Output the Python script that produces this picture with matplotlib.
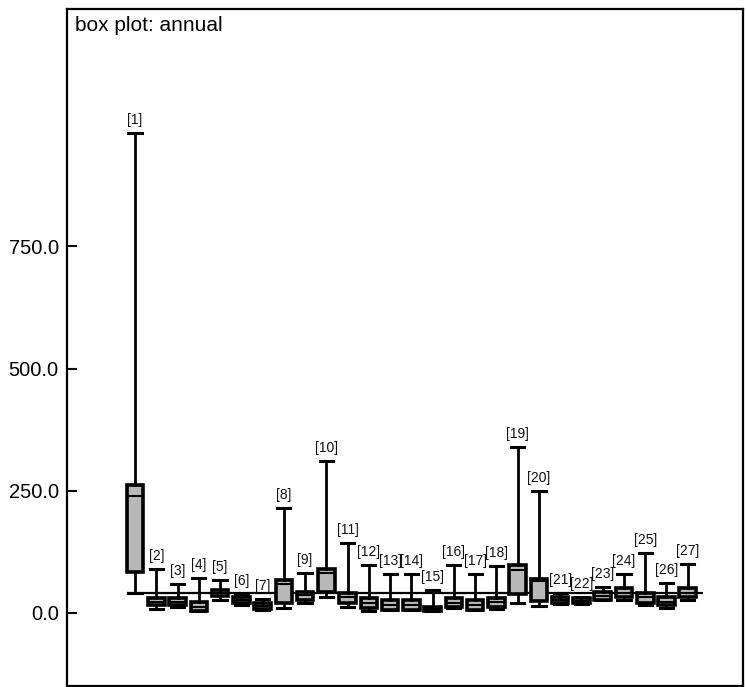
import matplotlib
matplotlib.use("Agg")
import matplotlib.pyplot as plt

plt.rcParams['font.family'] = ['Liberation Sans', 'DejaVu Sans']

labels = [f"[{i}]" for i in range(1, 28)]
whis_lo = [40, 8, 12, 3, 27, 15, 6, 10, 20, 33, 12, 4, 5, 5, 3, 10, 5, 8, 20, 14, 18, 18, 27, 27, 16, 10, 27]
q1 =      [83, 16, 16, 4, 35, 20, 8, 20, 27, 43, 20, 10, 6, 6, 4, 12, 6, 12, 39, 25, 20, 20, 27, 33, 20, 16, 33]
med =     [238, 22, 22, 12, 41, 26, 14, 58, 37, 82, 33, 20, 16, 16, 8, 20, 16, 22, 88, 64, 26, 25, 35, 41, 33, 22, 41]
q3 =      [262, 31, 31, 22, 47, 33, 20, 66, 43, 90, 41, 31, 27, 27, 12, 31, 27, 31, 98, 70, 33, 31, 43, 51, 41, 33, 51]
whis_hi = [982, 90, 59, 72, 68, 39, 29, 215, 82, 310, 143, 98, 80, 80, 47, 98, 80, 96, 340, 250, 41, 33, 53, 80, 123, 61, 100]
ref_level = 40
yticks = [0, 250, 500, 750]

fig = plt.figure(figsize=(7.47, 6.87), dpi=100)
ax = fig.add_axes([67/747, 1/687, (743-67)/747, (677)/687])

stats = []
for i in range(27):
    stats.append(dict(whislo=whis_lo[i], q1=q1[i], med=med[i], q3=q3[i], whishi=whis_hi[i], fliers=[]))
pos = list(range(1, 28))
ax.hlines(ref_level, 0.6, 27.7, color='black', lw=1.6, zorder=1)
ax.bxp(stats, positions=pos, widths=0.78, showfliers=False, patch_artist=True,
       boxprops=dict(facecolor='#b8b8b8', edgecolor='black', linewidth=2.6),
       medianprops=dict(color='black', linewidth=1.5),
       whiskerprops=dict(color='black', linewidth=2.0),
       capprops=dict(color='black', linewidth=2.2),
       capwidths=0.62, zorder=2)
for i in range(27):
    ax.text(pos[i], whis_hi[i] + 12, labels[i], ha='center', va='bottom', fontsize=10, color='#111111')

ax.set_xlim(-2.2, 29.6)
ax.set_ylim(-150, 1236)
ax.set_xticks([])
ax.set_yticks(yticks)
ax.set_yticklabels([f"{v:.1f}" for v in yticks], fontsize=14.5)
ax.tick_params(axis='y', direction='in', length=7, width=1.5, pad=6)
for s in ax.spines.values():
    s.set_linewidth(1.6)
ax.text(0.012, 0.99, "box plot: annual", transform=ax.transAxes, ha='left', va='top', fontsize=15)
fig.savefig("out.png", dpi=100)
